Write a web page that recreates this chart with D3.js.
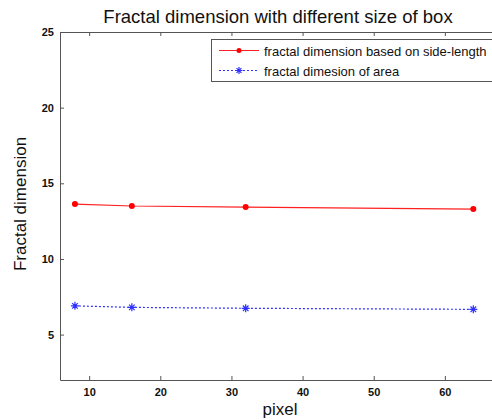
<!DOCTYPE html>
<html>
<head>
<meta charset="utf-8">
<script src="https://cdn.jsdelivr.net/npm/d3@7"></script>
<style>
  body { margin: 0; background: #fff; }
  svg { display: block; font-family: "Liberation Sans", Arial, sans-serif; }
</style>
</head>
<body>
<div id="vis-container"></div>
<script>
const width = 492,
      height = 420,
      margin = {top: 32, bottom: 40, left: 60, right: -24};

// box sizes (pixel) and the two measured series
var boxSizes = [8, 16, 32, 64];
var sideLengthDim = [13.63, 13.5, 13.43, 13.3];
var areaDim = [6.9, 6.8, 6.74, 6.67];
var yTicks = [5, 10, 15, 20, 25];
var xTicks = [10, 20, 30, 40, 50, 60];
var seriesNames = ["fractal dimension based on side-length", "fractal dimesion of area"];

var x = d3.scaleLinear().domain([5.9, 70]).range([margin.left, width - margin.right]);
var y = d3.scaleLinear().domain([2, 25]).range([height - margin.bottom, margin.top]);

var svg = d3.select("#vis-container").append("svg")
    .attr("width", width)
    .attr("height", height);

var axisColor = "#555";

// ******* Axes (box style, ticks inside) *******
function styleAxis(g) {
    g.select(".domain").attr("stroke", axisColor);
    g.selectAll(".tick line").attr("stroke", axisColor);
    g.selectAll(".tick text")
        .attr("fill", "#111")
        .attr("font-size", 11)
        .attr("font-weight", "bold");
}

svg.append("g")
    .attr("transform", `translate(0 ${y.range()[0]})`)
    .call(d3.axisBottom(x).tickValues(xTicks).tickSizeInner(-4).tickSizeOuter(0).tickPadding(8))
    .call(styleAxis);
svg.append("g")
    .attr("transform", `translate(0 ${y.range()[1]})`)
    .call(d3.axisTop(x).tickValues(xTicks).tickSizeInner(-4).tickSizeOuter(0).tickFormat(""))
    .call(styleAxis);
svg.append("g")
    .attr("transform", `translate(${margin.left} 0)`)
    .call(d3.axisLeft(y).tickValues(yTicks).tickSizeInner(-4).tickSizeOuter(0).tickPadding(6))
    .call(styleAxis);
svg.append("g")
    .attr("transform", `translate(${x.range()[1]} 0)`)
    .call(d3.axisRight(y).tickValues(yTicks).tickSizeInner(-4).tickSizeOuter(0).tickFormat(""))
    .call(styleAxis);

// ******* Lines *******
var line = d3.line()
    .x(function(d, i) { return x(boxSizes[i]); })
    .y(function(d) { return y(d); });

svg.append("path")
    .attr("d", line(sideLengthDim))
    .attr("fill", "none")
    .attr("stroke", "#ff2020")
    .attr("stroke-width", 1.2);

svg.append("path")
    .attr("d", line(areaDim))
    .attr("fill", "none")
    .attr("stroke", "#3030ff")
    .attr("stroke-width", 1.2)
    .attr("stroke-dasharray", "2,2");

// markers
svg.selectAll("circle.side")
    .data(sideLengthDim)
    .enter()
    .append("circle")
    .attr("class", "side")
    .attr("cx", function(d, i) { return x(boxSizes[i]); })
    .attr("cy", function(d) { return y(d); })
    .attr("r", 3)
    .attr("fill", "#ff0000");

function star(g, cx, cy, s, color) {
    var d = `M${cx - s},${cy}L${cx + s},${cy}M${cx},${cy - s}L${cx},${cy + s}` +
            `M${cx - s * 0.7},${cy - s * 0.7}L${cx + s * 0.7},${cy + s * 0.7}` +
            `M${cx - s * 0.7},${cy + s * 0.7}L${cx + s * 0.7},${cy - s * 0.7}`;
    g.append("path").attr("d", d).attr("stroke", color).attr("stroke-width", 1.2).attr("fill", "none");
}

areaDim.forEach(function(d, i) {
    star(svg, x(boxSizes[i]), y(d), 4, "#3030ff");
});

// ******* Legend *******
var legend = svg.append("g");
legend.append("rect")
    .attr("x", 211.5)
    .attr("y", 39.5)
    .attr("width", 300)
    .attr("height", 42)
    .attr("fill", "#fff")
    .attr("stroke", "#555");

var rowY = [50.5, 70.5];
legend.append("line")
    .attr("x1", 219).attr("x2", 259)
    .attr("y1", rowY[0]).attr("y2", rowY[0])
    .attr("stroke", "#ff2020").attr("stroke-width", 1.2);
legend.append("circle")
    .attr("cx", 239).attr("cy", rowY[0]).attr("r", 2.5).attr("fill", "#ff0000");
legend.append("line")
    .attr("x1", 219).attr("x2", 259)
    .attr("y1", rowY[1]).attr("y2", rowY[1])
    .attr("stroke", "#3030ff").attr("stroke-width", 1.2)
    .attr("stroke-dasharray", "2,2");
star(legend, 239, rowY[1], 3.5, "#3030ff");

seriesNames.forEach(function(name, i) {
    legend.append("text")
        .attr("x", 264)
        .attr("y", rowY[i] + 5)
        .attr("font-size", 13)
        .attr("fill", "#111")
        .text(name);
});

// ******* Titles *******
svg.append("text")
    .attr("x", 278)
    .attr("y", 23)
    .attr("text-anchor", "middle")
    .attr("font-size", 18.5)
    .attr("fill", "#111")
    .text("Fractal dimension with different size of box");

svg.append("text")
    .attr("x", 280)
    .attr("y", 415)
    .attr("text-anchor", "middle")
    .attr("font-size", 17)
    .attr("fill", "#111")
    .text("pixel");

svg.append("text")
    .attr("transform", "translate(26 204) rotate(-90)")
    .attr("text-anchor", "middle")
    .attr("font-size", 17)
    .attr("fill", "#111")
    .text("Fractal dimension");
</script>
</body>
</html>
